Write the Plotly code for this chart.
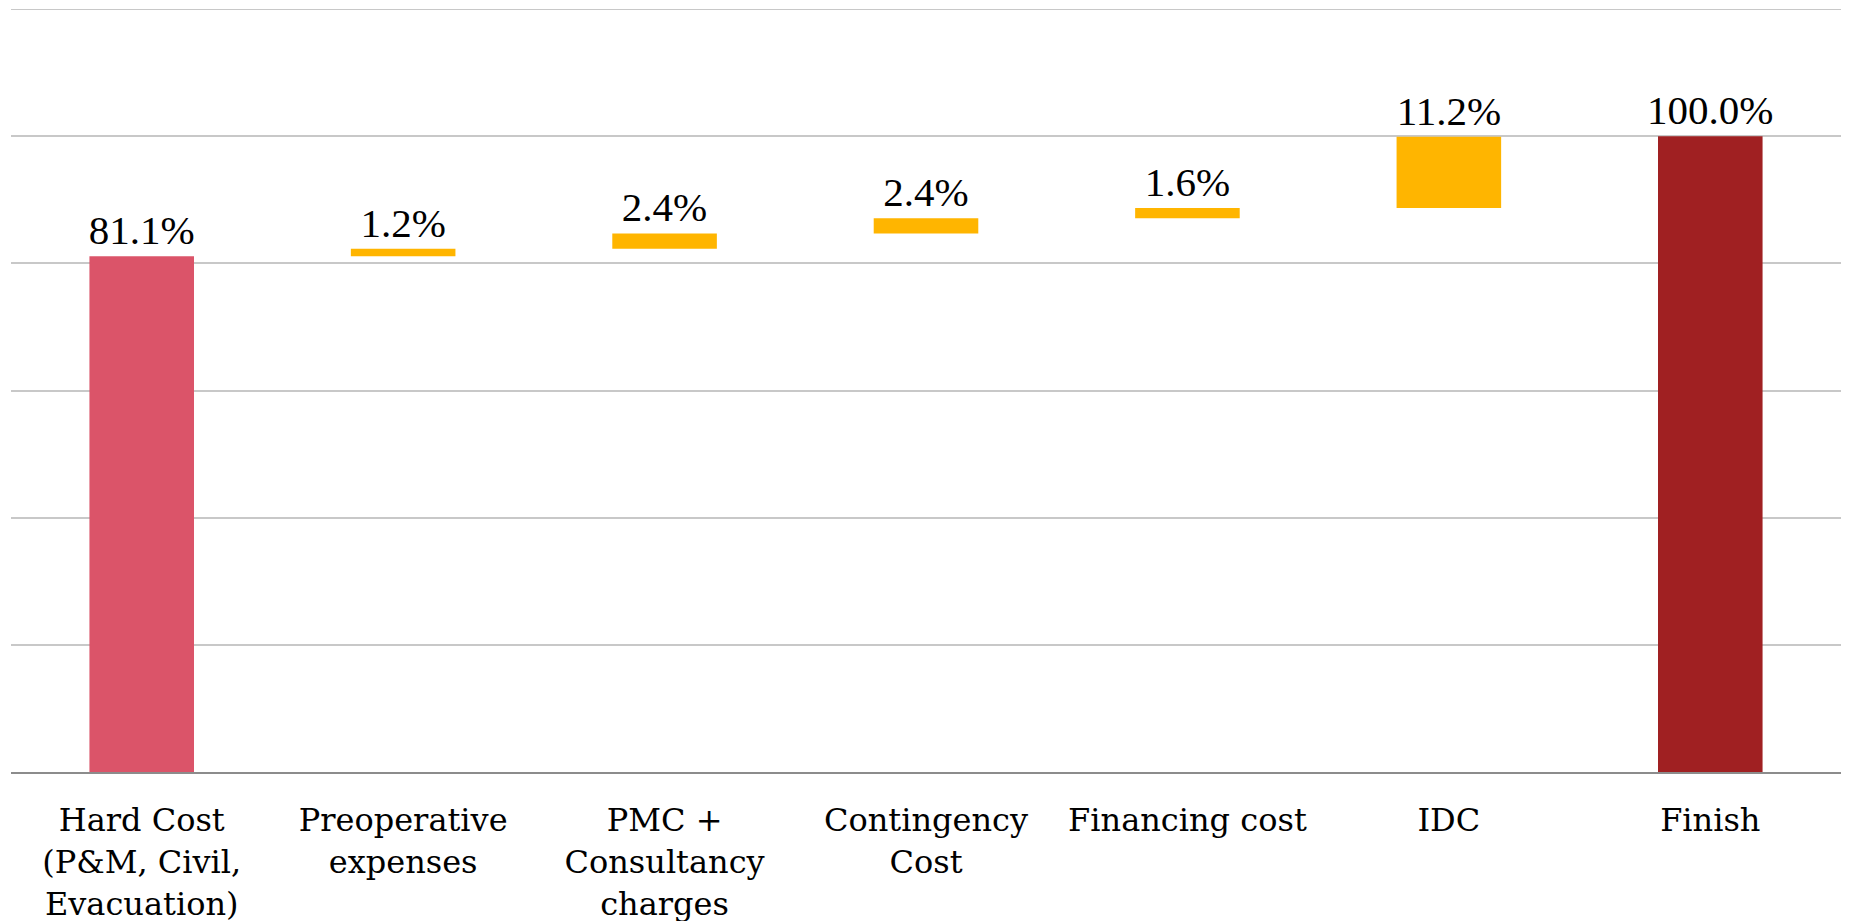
import plotly.graph_objects as go

categories = ["Hard Cost<br>(P&M, Civil,<br>Evacuation)", "Preoperative<br>expenses",
              "PMC +<br>Consultancy<br>charges", "Contingency<br>Cost", "Financing cost", "IDC", "Finish"]
values = [81.1, 1.2, 2.4, 2.4, 1.6, 11.2, 100.0]
kinds = ["start", "step", "step", "step", "step", "step", "total"]
colors = {"start": "#DB5469", "step": "#FFB500", "total": "#A02022"}
y_max = 120

bases, running = [], 0.0
for v, k in zip(values, kinds):
    if k == "total":
        bases.append(0)
    else:
        bases.append(running)
        running += v

fig = go.Figure(go.Bar(
    x=categories, y=values, base=bases,
    marker=dict(color=[colors[k] for k in kinds], line=dict(width=0)),
    text=[f"{v:.1f}%" for v in values], textposition="outside",
    textfont=dict(family="Liberation Serif", size=41, color="black"),
    cliponaxis=False, width=0.4, constraintext="none",
))
fig.add_shape(type="line", xref="paper", x0=0, x1=1, yref="y", y0=y_max, y1=y_max,
              line=dict(color="#C8C8C8", width=2), layer="below")
fig.update_layout(
    width=1849, height=921, margin=dict(l=3, r=16, t=1, b=157, autoexpand=False),
    plot_bgcolor="white", paper_bgcolor="white", showlegend=False,
)
fig.update_yaxes(range=[0, y_max], tickvals=[20, 40, 60, 80, 100], showticklabels=False,
                 gridcolor="#C8C8C8", gridwidth=1.5, zeroline=False, showline=False, automargin=False)
fig.update_xaxes(showline=True, linecolor="#8C8C8C", linewidth=2, ticks="outside", ticklen=19,
                 tickcolor="rgba(0,0,0,0)", automargin=False,
                 tickfont=dict(family="DejaVu Serif", size=32, color="black"))
fig.write_html("out.html")
